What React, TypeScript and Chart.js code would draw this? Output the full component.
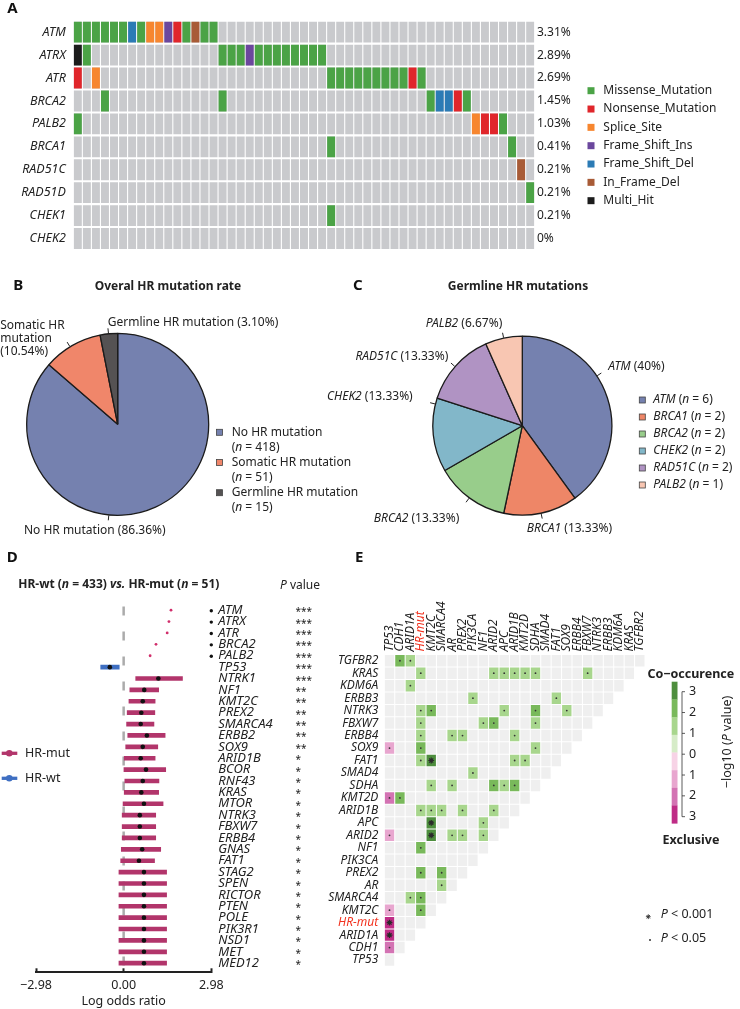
import React, { useEffect, useRef } from 'react';
import { Chart, registerables } from 'chart.js';

Chart.register(...registerables);

const FONT = '"Noto Sans", "DejaVu Sans", sans-serif';
Chart.defaults.font.family = FONT;
Chart.defaults.color = '#222';
const TXT = '#222';

// ================= Panel A: oncoplot =================
const oncoGenes = ['ATM', 'ATRX', 'ATR', 'BRCA2', 'PALB2', 'BRCA1', 'RAD51C', 'RAD51D', 'CHEK1', 'CHEK2'];
const oncoPct = ['3.31%', '2.89%', '2.69%', '1.45%', '1.03%', '0.41%', '0.21%', '0.21%', '0.21%', '0%'];
const mutTypes = ['Missense_Mutation', 'Nonsense_Mutation', 'Splice_Site', 'Frame_Shift_Ins', 'Frame_Shift_Del', 'In_Frame_Del', 'Multi_Hit'];
const mutColors = ['#4BA346', '#E0262B', '#F7862F', '#6B479D', '#2B7BB5', '#A85B36', '#1C1C1C'];
const sampleIds = Array.from({ length: 51 }, (_, i) => `S${i + 1}`);
// [sample index, mutation type index]
const mutATM = [[0, 0], [1, 0], [2, 0], [3, 0], [4, 0], [5, 0], [6, 4], [7, 0], [8, 2], [9, 2], [10, 3], [11, 1], [12, 0], [13, 5], [14, 0], [15, 0]];
const mutATRX = [[0, 6], [1, 0], [16, 0], [17, 0], [18, 0], [19, 3], [20, 0], [21, 0], [22, 0], [23, 0], [24, 0], [25, 0], [26, 0], [27, 0]];
const mutATR = [[0, 1], [2, 2], [28, 0], [29, 0], [30, 0], [31, 0], [32, 0], [33, 0], [34, 0], [35, 0], [36, 0], [37, 1], [38, 0]];
const mutBRCA2 = [[3, 0], [16, 0], [39, 0], [40, 4], [41, 4], [42, 1], [43, 0]];
const mutPALB2 = [[0, 0], [44, 2], [45, 1], [46, 1], [47, 0]];
const mutBRCA1 = [[28, 0], [48, 0]];
const mutRAD51C = [[49, 5]];
const mutRAD51D = [[50, 0]];
const mutCHEK1 = [[28, 0]];
const mutCHEK2: number[][] = [];
const oncoMutations = [mutATM, mutATRX, mutATR, mutBRCA2, mutPALB2, mutBRCA1, mutRAD51C, mutRAD51D, mutCHEK1, mutCHEK2];

// ================= Panel B =================
const hrLabels = ['No HR mutation', 'Somatic HR mutation', 'Germline HR mutation'];
const hrCounts = [418, 51, 15];
const hrPct = ['86.36%', '10.54%', '3.10%'];
const hrColors = ['#7581AF', '#F0866A', '#555253'];

// ================= Panel C =================
const germGenes = ['ATM', 'BRCA1', 'BRCA2', 'CHEK2', 'RAD51C', 'PALB2'];
const germCounts = [6, 2, 2, 2, 2, 1];
const germPct = ['40%', '13.33%', '13.33%', '13.33%', '13.33%', '6.67%'];
const germColors = ['#7581AF', '#EE8667', '#98CD8B', '#82B7C9', '#B093C3', '#F8C6B2'];

// ================= Panel D: forest =================
const nWt = 433;
const nMut = 51;
const forestGenes = ['ATM', 'ATRX', 'ATR', 'BRCA2', 'PALB2', 'TP53', 'NTRK1', 'NF1', 'KMT2C', 'PREX2', 'SMARCA4', 'ERBB2', 'SOX9', 'ARID1B', 'BCOR', 'RNF43', 'KRAS', 'MTOR', 'NTRK3', 'FBXW7', 'ERBB4', 'GNAS', 'FAT1', 'STAG2', 'SPEN', 'RICTOR', 'PTEN', 'POLE', 'PIK3R1', 'NSD1', 'MET', 'MED12'];
const forestEst = [1.61, 1.54, 1.48, 1.10, 0.90, -0.47, 1.18, 0.70, 0.65, 0.60, 0.58, 0.79, 0.65, 0.58, 0.76, 0.65, 0.60, 0.69, 0.55, 0.55, 0.55, 0.63, 0.52, 0.69, 0.69, 0.69, 0.69, 0.69, 0.69, 0.69, 0.69, 0.69];
const forestLow = [null, null, null, null, null, -0.78, 0.41, 0.21, 0.18, 0.12, 0.10, 0.14, 0.07, 0.02, 0.01, 0.04, 0.02, -0.02, -0.05, -0.05, -0.05, -0.08, -0.10, -0.16, -0.16, -0.16, -0.16, -0.16, -0.16, -0.16, -0.16, -0.16];
const forestHigh = [null, null, null, null, null, -0.15, 2.00, 1.19, 1.07, 1.06, 1.03, 1.41, 1.16, 1.07, 1.43, 1.20, 1.19, 1.34, 1.09, 1.09, 1.09, 1.26, 1.05, 1.46, 1.46, 1.46, 1.46, 1.46, 1.46, 1.46, 1.46, 1.46];
const forestP = ['***', '***', '***', '***', '***', '***', '***', '**', '**', '**', '**', '**', '**', '*', '*', '*', '*', '*', '*', '*', '*', '*', '*', '*', '*', '*', '*', '*', '*', '*', '*', '*'];
const forestGroup = ['HR-mut', 'HR-mut', 'HR-mut', 'HR-mut', 'HR-mut', 'HR-wt', 'HR-mut', 'HR-mut', 'HR-mut', 'HR-mut', 'HR-mut', 'HR-mut', 'HR-mut', 'HR-mut', 'HR-mut', 'HR-mut', 'HR-mut', 'HR-mut', 'HR-mut', 'HR-mut', 'HR-mut', 'HR-mut', 'HR-mut', 'HR-mut', 'HR-mut', 'HR-mut', 'HR-mut', 'HR-mut', 'HR-mut', 'HR-mut', 'HR-mut', 'HR-mut'];
const forestTicks = [-2.98, 0, 2.98];
const groupNames = ['HR-mut', 'HR-wt'];
const groupColors = ['#B2356B', '#3F6FC2'];

// ================= Panel E: co-occurrence =================
const coGenes = ['TP53', 'CDH1', 'ARID1A', 'HR-mut', 'KMT2C', 'SMARCA4', 'AR', 'PREX2', 'PIK3CA', 'NF1', 'ARID2', 'APC', 'ARID1B', 'KMT2D', 'SDHA', 'SMAD4', 'FAT1', 'SOX9', 'ERBB4', 'FBXW7', 'NTRK3', 'ERBB3', 'KDM6A', 'KRAS', 'TGFBR2'];
// [row gene, column gene, signed -log10(P): + co-occurrence, - exclusive]
const coPairs: [string, string, number][] = [
  ['TGFBR2', 'CDH1', 2.5], ['TGFBR2', 'ARID1A', 1.6],
  ['KRAS', 'HR-mut', 1.6], ['KRAS', 'ARID2', 1.6], ['KRAS', 'APC', 1.6], ['KRAS', 'ARID1B', 1.6], ['KRAS', 'KMT2D', 1.6], ['KRAS', 'SDHA', 1.6], ['KRAS', 'FBXW7', 1.6],
  ['KDM6A', 'ARID1A', 1.6],
  ['ERBB3', 'PIK3CA', 1.6], ['ERBB3', 'FAT1', 1.6],
  ['NTRK3', 'HR-mut', 1.6], ['NTRK3', 'KMT2C', 2.5], ['NTRK3', 'APC', 1.6], ['NTRK3', 'SDHA', 2.5], ['NTRK3', 'SOX9', 1.6],
  ['FBXW7', 'HR-mut', 1.6], ['FBXW7', 'NF1', 1.6], ['FBXW7', 'ARID2', 2.5], ['FBXW7', 'SDHA', 1.6],
  ['ERBB4', 'HR-mut', 1.6], ['ERBB4', 'AR', 1.6], ['ERBB4', 'PREX2', 1.6], ['ERBB4', 'ARID1B', 1.6],
  ['SOX9', 'TP53', -1.6], ['SOX9', 'HR-mut', 2.5], ['SOX9', 'SDHA', 1.6],
  ['FAT1', 'HR-mut', 1.6], ['FAT1', 'KMT2C', 3.5], ['FAT1', 'ARID1B', 1.6], ['FAT1', 'KMT2D', 1.6],
  ['SMAD4', 'PIK3CA', 1.6],
  ['SDHA', 'KMT2C', 1.6], ['SDHA', 'AR', 1.6], ['SDHA', 'ARID2', 2.5], ['SDHA', 'APC', 1.6], ['SDHA', 'ARID1B', 2.5],
  ['KMT2D', 'TP53', -2.5], ['KMT2D', 'CDH1', 2.5],
  ['ARID1B', 'HR-mut', 1.6], ['ARID1B', 'KMT2C', 1.6], ['ARID1B', 'SMARCA4', 1.6], ['ARID1B', 'PREX2', 1.6], ['ARID1B', 'ARID2', 1.6],
  ['APC', 'KMT2C', 3.5], ['APC', 'NF1', 1.6],
  ['ARID2', 'TP53', -1.6], ['ARID2', 'KMT2C', 3.5], ['ARID2', 'AR', 1.6], ['ARID2', 'PREX2', 1.6], ['ARID2', 'NF1', 1.6],
  ['NF1', 'HR-mut', 2.5],
  ['PREX2', 'HR-mut', 2.5], ['PREX2', 'SMARCA4', 2.5],
  ['AR', 'SMARCA4', 1.6],
  ['SMARCA4', 'ARID1A', 1.6], ['SMARCA4', 'HR-mut', 2.5],
  ['KMT2C', 'TP53', -1.6], ['KMT2C', 'HR-mut', 2.5],
  ['HR-mut', 'TP53', -3.5],
  ['ARID1A', 'TP53', -3.5],
  ['CDH1', 'TP53', -2.5],
];
const coScaleLabels = ['3', '2', '1', '0', '1', '2', '3'];
const coScaleColors = ['#4E8E3E', '#79B95B', '#A8D68D', '#D6ECC8', '#F7D3E6', '#E8A6CF', '#D373B3', '#BF2C86'];
const HRRED = '#F2321F';

function heatColor(v: number) {
  if (v >= 3) return coScaleColors[0];
  if (v >= 2) return coScaleColors[1];
  if (v >= 1.3) return coScaleColors[2];
  if (v > 0) return coScaleColors[3];
  if (v <= -3) return coScaleColors[7];
  if (v <= -2) return coScaleColors[6];
  if (v <= -1.3) return coScaleColors[5];
  if (v < 0) return coScaleColors[4];
  return '#EFEFEF';
}

// ================= helpers =================
type Seg = { t: string; i?: boolean; b?: boolean };
const font = (size: number, italic = false, bold = false) => `${italic ? 'italic ' : ''}${bold ? 'bold ' : ''}${size}px ${FONT}`;
function richWidth(ctx: CanvasRenderingContext2D, segs: Seg[], size: number) {
  let w = 0;
  for (const s of segs) { ctx.font = font(size, s.i, s.b); w += ctx.measureText(s.t).width; }
  return w;
}
function drawRich(ctx: CanvasRenderingContext2D, segs: Seg[], x: number, y: number, size: number, align: string = 'left', color = TXT) {
  const w = richWidth(ctx, segs, size);
  let cx = align === 'left' ? x : align === 'center' ? x - w / 2 : x - w;
  ctx.fillStyle = color; ctx.textAlign = 'left'; ctx.textBaseline = 'middle';
  for (const s of segs) { ctx.font = font(size, s.i, s.b); ctx.fillText(s.t, cx, y); cx += ctx.measureText(s.t).width; }
}
function letter(ctx: CanvasRenderingContext2D, t: string, x: number, y: number) {
  drawRich(ctx, [{ t, b: true }], x, y, 15, 'left', '#111');
}
function starShape(ctx: CanvasRenderingContext2D, x: number, y: number, r: number) {
  ctx.beginPath();
  for (let k = 0; k < 4; k++) {
    const a = (k * Math.PI) / 4;
    ctx.moveTo(x - r * Math.cos(a), y - r * Math.sin(a));
    ctx.lineTo(x + r * Math.cos(a), y + r * Math.sin(a));
  }
  ctx.stroke();
}

// ================= chart configs =================
function makeA(L: number, T: number) {
  const cell = (gi: number) => [gi + 0.045, gi + 0.955];
  const bg: any[] = [];
  oncoGenes.forEach((_, gi) => sampleIds.forEach((s) => bg.push({ x: s, y: cell(gi) })));
  const typeData: any[][] = mutTypes.map(() => []);
  oncoMutations.forEach((list, gi) => list.forEach(([s, t]) => typeData[t].push({ x: sampleIds[s], y: cell(gi) })));
  const common = { grouped: false, barPercentage: 0.88, categoryPercentage: 1, borderWidth: 0, yAxisID: 'y' };
  const decor = {
    id: 'decorA',
    afterDraw(chart: any) {
      const ctx = chart.ctx; ctx.save(); ctx.translate(-L, -T);
      letter(ctx, 'A', 7.3, 8.7);
      mutTypes.forEach((m, i) => {
        const y = 90.7 + i * 18.33;
        ctx.fillStyle = mutColors[i]; ctx.fillRect(587.5, y - 3.5, 7, 7);
        drawRich(ctx, [{ t: m }], 603.3, y, 12);
      });
      ctx.restore();
    },
  };
  const yCommon = {
    type: 'linear', min: 0, max: 10, reverse: true,
    afterBuildTicks: (a: any) => { a.ticks = oncoGenes.map((_, i) => ({ value: i + 0.5 })); },
    grid: { display: false, drawTicks: false }, border: { display: false },
  };
  return {
    type: 'bar',
    data: {
      labels: sampleIds,
      datasets: [
        ...mutTypes.map((m, t) => ({ label: m, data: typeData[t], backgroundColor: mutColors[t], ...common, order: 0 })),
        { label: 'none', data: bg, backgroundColor: '#C9CACD', ...common, order: 1 },
      ],
    },
    options: {
      responsive: false, animation: false,
      layout: { padding: { left: 0, right: 145.3, top: 20.7, bottom: 7 } },
      plugins: { legend: { display: false }, tooltip: { enabled: false } },
      scales: {
        x: { type: 'category', display: false, offset: true },
        y: {
          ...yCommon, position: 'left',
          afterFit: (s: any) => { s.width = 73.3; },
          ticks: { autoSkip: false, padding: 7.5, color: TXT, font: { size: 12.5, style: 'italic' }, callback: (v: number) => oncoGenes[Math.floor(v)] },
        },
        yR: {
          ...yCommon, position: 'right',
          afterFit: (s: any) => { s.width = 60; },
          ticks: { autoSkip: false, padding: 2.3, color: TXT, font: { size: 12 }, callback: (v: number) => oncoPct[Math.floor(v)] },
        },
      },
    },
    plugins: [decor],
  };
}

function pieConfig(labels: string[], counts: number[], colors: string[], radius: number, padding: any, decor: any) {
  return {
    type: 'pie',
    data: { labels, datasets: [{ data: counts, backgroundColor: colors, borderColor: '#1b1b1b', borderWidth: 1.3, radius }] },
    options: {
      responsive: false, animation: false, layout: { padding },
      plugins: { legend: { display: false }, tooltip: { enabled: false } },
    },
    plugins: [decor],
  };
}

function pieTicks(ctx: CanvasRenderingContext2D, cx: number, cy: number, r: number, angles: number[]) {
  ctx.strokeStyle = '#222'; ctx.lineWidth = 1;
  angles.forEach((deg) => {
    const a = (deg * Math.PI) / 180;
    ctx.beginPath();
    ctx.moveTo(cx + (r + 0.5) * Math.sin(a), cy - (r + 0.5) * Math.cos(a));
    ctx.lineTo(cx + (r + 5.5) * Math.sin(a), cy - (r + 5.5) * Math.cos(a));
    ctx.stroke();
  });
}

function legendKey(ctx: CanvasRenderingContext2D, x: number, y: number, color: string) {
  ctx.fillStyle = color; ctx.fillRect(x, y - 3, 6, 6);
  ctx.strokeStyle = '#444'; ctx.lineWidth = 0.8; ctx.strokeRect(x, y - 3, 6, 6);
}

function makeB(L: number, T: number) {
  const tickAngles = [185.6, -31.6, -5.8];
  const labelPos = [
    { dx: -22.9, dy: 106.4, align: 'center' },
    { dx: -117.5, dy: -98.6, align: 'left' },
    { dx: -10, dy: -102, align: 'left' },
  ];
  const decor = {
    id: 'decorB',
    afterDraw(chart: any) {
      const ctx = chart.ctx; ctx.save(); ctx.translate(-L, -T);
      const arc = chart.getDatasetMeta(0).data[0];
      const cx = arc.x + L, cy = arc.y + T, r = arc.outerRadius;
      letter(ctx, 'B', 13.3, 285.3);
      drawRich(ctx, [{ t: 'Overal HR mutation rate', b: true }], 168, 286.7, 12, 'center');
      pieTicks(ctx, cx, cy, r, tickAngles);
      hrLabels.forEach((lab, i) => {
        const lines = i === 1 ? ['Somatic HR', 'mutation', `(${hrPct[i]})`] : [`${lab} (${hrPct[i]})`];
        const p = labelPos[i];
        lines.forEach((ln, k) => drawRich(ctx, [{ t: ln }], cx + p.dx, cy + p.dy + k * 13, 12, p.align));
      });
      hrLabels.forEach((lab, i) => {
        const y = 432.3 + i * 30.2;
        legendKey(ctx, 216.5, y, hrColors[i]);
        drawRich(ctx, [{ t: lab }], 231.7, y, 12);
        drawRich(ctx, [{ t: '(' }, { t: 'n', i: true }, { t: ` = ${hrCounts[i]})` }], 231.7, y + 15, 12);
      });
      ctx.restore();
    },
  };
  return pieConfig(hrLabels, hrCounts, hrColors, 91, { left: 0, right: 129.6, top: 60, bottom: 26.4 }, decor);
}

function makeC(L: number, T: number) {
  const tickAngles = [56.3, 167.9, 216.3, 284, 311.3, 348];
  const labelPos = [
    { dx: 86, dy: -59, align: 'left' },
    { dx: 4.4, dy: 102.6, align: 'left' },
    { dx: -63, dy: 93.3, align: 'right' },
    { dx: -109.6, dy: -29, align: 'right' },
    { dx: -74, dy: -69, align: 'right' },
    { dx: -20, dy: -102.4, align: 'right' },
  ];
  const decor = {
    id: 'decorC',
    afterDraw(chart: any) {
      const ctx = chart.ctx; ctx.save(); ctx.translate(-L, -T);
      const arc = chart.getDatasetMeta(0).data[0];
      const cx = arc.x + L, cy = arc.y + T, r = arc.outerRadius;
      letter(ctx, 'C', 353, 285.3);
      drawRich(ctx, [{ t: 'Germline HR mutations', b: true }], 518, 287, 12, 'center');
      pieTicks(ctx, cx, cy, r, tickAngles);
      germGenes.forEach((g, i) => {
        const p = labelPos[i];
        drawRich(ctx, [{ t: g, i: true }, { t: ` (${germPct[i]})` }], cx + p.dx, cy + p.dy, 12, p.align);
      });
      germGenes.forEach((g, i) => {
        const y = 400 + i * 17;
        legendKey(ctx, 639.3, y, germColors[i]);
        drawRich(ctx, [{ t: g, i: true }, { t: ' (' }, { t: 'n', i: true }, { t: ` = ${germCounts[i]})` }], 653.3, y, 12);
      });
      ctx.restore();
    },
  };
  return pieConfig(germGenes, germCounts, germColors, 89.5, { left: 100, right: 95.4, top: 60, bottom: 23.6 }, decor);
}

function makeD(L: number, T: number) {
  const colorOf = (g: string) => groupColors[groupNames.indexOf(g)];
  const bars: any[] = [];
  const barColors: string[] = [];
  const pts: any[] = [];
  const dots: any[] = [];
  forestGenes.forEach((g, i) => {
    if (forestLow[i] == null) {
      dots.push({ x: forestEst[i], y: i });
    } else {
      bars.push({ x: [forestLow[i], forestHigh[i]], y: i });
      barColors.push(colorOf(forestGroup[i]));
      pts.push({ x: forestEst[i], y: i });
    }
  });
  const decor = {
    id: 'decorD',
    beforeDatasetsDraw(chart: any) {
      const ctx = chart.ctx; const ca = chart.chartArea;
      const x0 = chart.scales.x.getPixelForValue(0);
      ctx.save();
      ctx.strokeStyle = '#ABABAB'; ctx.lineWidth = 2.5; ctx.setLineDash([9, 16]);
      ctx.beginPath(); ctx.moveTo(x0, ca.top + 2); ctx.lineTo(x0, ca.bottom - 4); ctx.stroke();
      ctx.restore();
    },
    afterDraw(chart: any) {
      const ctx = chart.ctx; ctx.save(); ctx.translate(-L, -T);
      letter(ctx, 'D', 6.7, 558);
      drawRich(ctx, [
        { t: 'HR-wt (', b: true }, { t: 'n', b: true, i: true }, { t: ` = ${nWt}) `, b: true },
        { t: 'vs.', b: true, i: true }, { t: ' HR-mut (', b: true }, { t: 'n', b: true, i: true }, { t: ` = ${nMut})`, b: true },
      ], 18.3, 585, 12);
      drawRich(ctx, [{ t: 'P', i: true }, { t: ' value' }], 280, 586, 12);
      const ys = chart.scales.y;
      forestGenes.forEach((g, i) => {
        const y = ys.getPixelForValue(i) + T;
        if (forestLow[i] == null) {
          ctx.fillStyle = '#111'; ctx.beginPath(); ctx.arc(211.3, y + 0.5, 1.7, 0, Math.PI * 2); ctx.fill();
        }
        drawRich(ctx, [{ t: g, i: true }], 218.3, y, 13);
        drawRich(ctx, [{ t: forestP[i] }], 295.5, y + 2.2, 10);
      });
      groupNames.forEach((gn, k) => {
        const y = 753.3 + k * 25;
        ctx.strokeStyle = groupColors[k]; ctx.lineWidth = 3.3; ctx.setLineDash([]);
        ctx.beginPath(); ctx.moveTo(1.7, y); ctx.lineTo(17.3, y); ctx.stroke();
        ctx.fillStyle = groupColors[k]; ctx.beginPath(); ctx.arc(9.3, y, 3.3, 0, Math.PI * 2); ctx.fill();
        drawRich(ctx, [{ t: gn }], 25, y, 12.5);
      });
      ctx.restore();
    },
  };
  return {
    type: 'bar',
    data: {
      datasets: [
        { type: 'scatter', data: pts, pointRadius: 2.3, backgroundColor: '#111', borderWidth: 0, order: 0 },
        { type: 'scatter', data: dots, pointRadius: 1.4, backgroundColor: '#D12E6B', borderWidth: 0, order: 0 },
        { type: 'bar', indexAxis: 'y', data: bars, backgroundColor: barColors, barThickness: 4, borderWidth: 0, grouped: false, order: 1 },
      ],
    },
    options: {
      responsive: false, animation: false,
      layout: { padding: { left: 36, right: 133.7, top: 59.5, bottom: 0 } },
      plugins: { legend: { display: false }, tooltip: { enabled: false } },
      scales: {
        x: {
          type: 'linear', position: 'bottom', min: -2.98, max: 2.98, offset: false,
          afterBuildTicks: (a: any) => { a.ticks = forestTicks.map((v) => ({ value: v })); },
          afterFit: (s: any) => { s.height = 36.7; },
          grid: { display: true, offset: false, drawOnChartArea: false, drawTicks: true, tickLength: -4, tickWidth: 2, tickColor: '#222' },
          border: { display: true, color: '#222', width: 2 },
          ticks: {
            autoSkip: false, padding: 9.2, color: TXT, font: { size: 12.5 },
            callback: (v: number) => (v < 0 ? '\u2212' : '') + Math.abs(v).toFixed(2),
          },
          title: { display: true, text: 'Log odds ratio', color: TXT, font: { size: 12.5 }, padding: { top: 0, bottom: 0 } },
        },
        y: { type: 'linear', min: -0.5, max: 31.8, reverse: true, display: false, offset: false },
      },
    },
    plugins: [decor],
  };
}

function makeE(L: number, T: number) {
  const vmap = new Map<string, number>();
  coPairs.forEach(([r, c, v]) => vmap.set(`${r}|${c}`, v));
  const cells: any[] = [];
  coGenes.forEach((rg, ri) => {
    for (let ci = 0; ci <= ri; ci++) {
      const cg = coGenes[ci];
      cells.push({ x: cg, y: [ri - 0.46, ri + 0.46], v: vmap.get(`${rg}|${cg}`) ?? 0 });
    }
  });
  const dots = coPairs.filter((p) => Math.abs(p[2]) < 3).map(([r, c]) => ({ x: c, y: coGenes.indexOf(r) }));
  const stars = coPairs.filter((p) => Math.abs(p[2]) >= 3).map(([r, c]) => ({ x: c, y: coGenes.indexOf(r) }));
  const tickColor = (c: any) => (coGenes[c.index] === 'HR-mut' ? HRRED : TXT);
  const decor = {
    id: 'decorE',
    afterDraw(chart: any) {
      const ctx = chart.ctx; ctx.save(); ctx.translate(-L, -T);
      letter(ctx, 'E', 355, 558);
      drawRich(ctx, [{ t: 'Co\u2212occurence', b: true }], 690.8, 674, 12.5, 'center');
      drawRich(ctx, [{ t: 'Exclusive', b: true }], 691, 840.7, 12.5, 'center');
      const top = 681.7, segH = (823.3 - 681.7) / coScaleColors.length;
      coScaleColors.forEach((c, k) => { ctx.fillStyle = c; ctx.fillRect(671.7, top + k * segH, 5.8, segH + 0.3); });
      ctx.strokeStyle = '#333'; ctx.lineWidth = 0.8;
      ctx.beginPath(); ctx.moveTo(682, 691.7); ctx.lineTo(682, 816.7); ctx.stroke();
      coScaleLabels.forEach((lab, k) => {
        const y = 691.7 + k * 20.83;
        ctx.beginPath(); ctx.moveTo(682, y); ctx.lineTo(685, y); ctx.stroke();
        drawRich(ctx, [{ t: lab }], 689, y, 12.5);
      });
      ctx.save(); ctx.translate(727, 742); ctx.rotate(-Math.PI / 2);
      drawRich(ctx, [{ t: '\u2212log10 (' }, { t: 'P', i: true }, { t: ' value)' }], 0, 0, 12.5, 'center');
      ctx.restore();
      ctx.strokeStyle = '#333'; ctx.lineWidth = 0.9;
      starShape(ctx, 648.3, 916.7, 2.4);
      drawRich(ctx, [{ t: 'P', i: true }, { t: ' < 0.001' }], 660.7, 914, 12.5);
      ctx.fillStyle = '#333'; ctx.beginPath(); ctx.arc(650, 940, 1, 0, Math.PI * 2); ctx.fill();
      drawRich(ctx, [{ t: 'P', i: true }, { t: ' < 0.05' }], 660.7, 938.3, 12.5);
      ctx.restore();
    },
  };
  return {
    type: 'bar',
    data: {
      labels: coGenes,
      datasets: [
        { type: 'scatter', data: dots, pointRadius: 0.9, backgroundColor: '#333', borderWidth: 0, order: 0 },
        { type: 'scatter', data: stars, pointStyle: 'star', pointRadius: 2.9, borderColor: '#2a2a2a', backgroundColor: '#2a2a2a', borderWidth: 1.2, order: 0 },
        { type: 'bar', data: cells, backgroundColor: (c: any) => heatColor(c.raw ? c.raw.v : 0), barPercentage: 0.9, categoryPercentage: 1, borderWidth: 0, grouped: false, order: 1 },
      ],
    },
    options: {
      responsive: false, animation: false,
      layout: { padding: { left: 0, right: 95, top: 0, bottom: 42.7 } },
      plugins: { legend: { display: false }, tooltip: { enabled: false } },
      scales: {
        x: {
          type: 'category', position: 'top', offset: true,
          afterFit: (s: any) => { s.height = 109.5; },
          grid: { display: false, drawTicks: false }, border: { display: false },
          ticks: { autoSkip: false, minRotation: 90, maxRotation: 90, padding: 3, labelOffset: 14.4, color: tickColor, font: { size: 12, style: 'italic' } },
        },
        y: {
          type: 'linear', min: -0.5, max: 24.5, offset: false,
          afterBuildTicks: (a: any) => { a.ticks = coGenes.map((_, i) => ({ value: i })); },
          afterFit: (s: any) => { s.width = 64.3; },
          grid: { display: false, drawTicks: false }, border: { display: false },
          ticks: { autoSkip: false, padding: 6, color: tickColor, font: { size: 12, style: 'italic' }, callback: (v: number) => coGenes[v] },
        },
      },
    },
    plugins: [decor],
  };
}

// ================= components =================
function ChartBox({ left, top, width, height, make }: { left: number; top: number; width: number; height: number; make: (L: number, T: number) => any }) {
  const ref = useRef<HTMLCanvasElement>(null);
  useEffect(() => {
    const chart = new Chart(ref.current as HTMLCanvasElement, make(left, top));
    return () => chart.destroy();
  }, []);
  return <canvas ref={ref} width={width} height={height} style={{ position: 'absolute', left, top, width, height }} />;
}

export default function App() {
  return (
    <div style={{ position: 'absolute', left: 0, top: 0, width: 740, height: 1009, background: '#fff', overflow: 'hidden' }}>
      <ChartBox left={0} top={0} width={740} height={265} make={makeA} />
      <ChartBox left={0} top={265} width={365} height={285} make={makeB} />
      <ChartBox left={300} top={265} width={440} height={285} make={makeC} />
      <ChartBox left={0} top={545} width={345} height={464} make={makeD} />
      <ChartBox left={320} top={545} width={420} height={464} make={makeE} />
    </div>
  );
}
